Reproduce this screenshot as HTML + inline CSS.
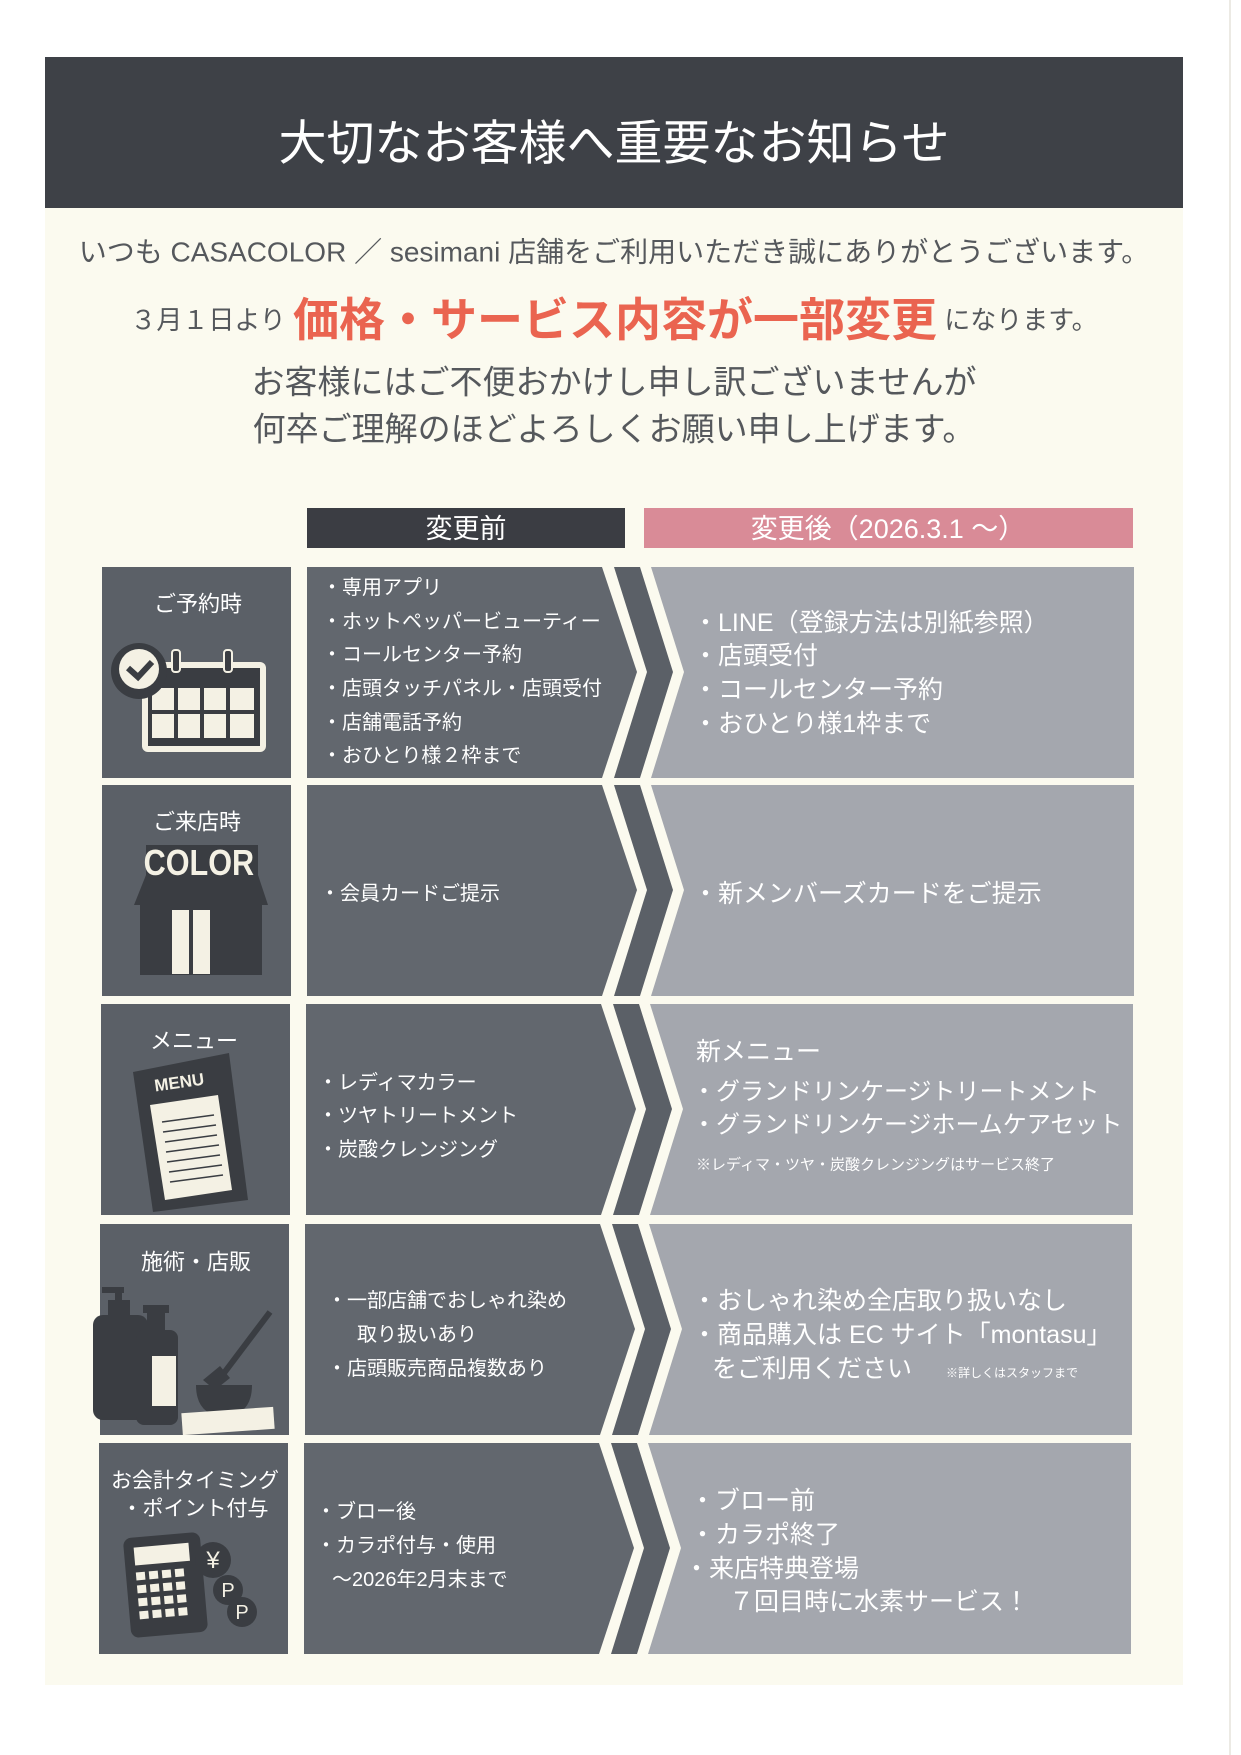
<!DOCTYPE html>
<html><head><meta charset="utf-8"><style>
html,body{margin:0;padding:0;background:#fff;}
svg{display:block;}
text{font-family:"Liberation Sans","Noto Sans CJK JP",sans-serif;}
</style></head><body>
<svg width="1241" height="1755" viewBox="0 0 1241 1755" xmlns="http://www.w3.org/2000/svg">
<rect x="0" y="0" width="1241" height="1755" fill="#ffffff"/>
<rect x="45" y="57" width="1138" height="1628" fill="#fbfaef"/>
<line x1="1230" y1="0" x2="1230" y2="1755" stroke="#eceae4" stroke-width="2"/>
<rect x="45" y="57" width="1138" height="151" fill="#3e4147"/>
<text x="614" y="144" text-anchor="middle" dominant-baseline="central" font-size="48" fill="#fff">大切なお客様へ重要なお知らせ</text>

<text x="614" y="252" text-anchor="middle" dominant-baseline="central" font-size="28" fill="#55585c">いつも CASACOLOR ／ sesimani 店舗をご利用いただき誠にありがとうございます。</text>
<text x="614" y="320" text-anchor="middle" dominant-baseline="central" fill="#55585c"><tspan font-size="26">３月１日より </tspan><tspan font-size="46" font-weight="bold" fill="#ea6450">価格・サービス内容が一部変更</tspan><tspan font-size="26"> になります。</tspan></text>
<text x="614" y="382" text-anchor="middle" dominant-baseline="central" font-size="33" fill="#55585c">お客様にはご不便おかけし申し訳ございませんが</text>
<text x="614" y="429" text-anchor="middle" dominant-baseline="central" font-size="33" fill="#55585c">何卒ご理解のほどよろしくお願い申し上げます。</text>

<rect x="307" y="508" width="318" height="40" fill="#3b3d43"/>
<text x="466" y="529" text-anchor="middle" dominant-baseline="central" font-size="27" fill="#fff">変更前</text>
<rect x="644" y="508" width="489" height="40" fill="#d98b97"/>
<text x="888" y="529" text-anchor="middle" dominant-baseline="central" font-size="27" fill="#fff">変更後（2026.3.1 ～）</text>

<g id="rows">
<rect x="102" y="567" width="189" height="211" fill="#5b6067"/>
<polygon points="307,567 602,567 637,672 602,778 307,778" fill="#62676e"/>
<polygon points="614,567 640,567 673,672 640,778 614,778 647,672" fill="#5b6067"/>
<polygon points="651,567 1134,567 1134,778 651,778 684,672" fill="#a4a7ae"/>
<rect x="102" y="785" width="189" height="211" fill="#5b6067"/>
<polygon points="307,785 602,785 637,890 602,996 307,996" fill="#62676e"/>
<polygon points="614,785 640,785 673,890 640,996 614,996 647,890" fill="#5b6067"/>
<polygon points="651,785 1134,785 1134,996 651,996 684,890" fill="#a4a7ae"/>
<rect x="101" y="1004" width="189" height="211" fill="#5b6067"/>
<polygon points="306,1004 601,1004 636,1109 601,1215 306,1215" fill="#62676e"/>
<polygon points="613,1004 639,1004 672,1109 639,1215 613,1215 646,1109" fill="#5b6067"/>
<polygon points="650,1004 1133,1004 1133,1215 650,1215 683,1109" fill="#a4a7ae"/>
<rect x="100" y="1224" width="189" height="211" fill="#5b6067"/>
<polygon points="305,1224 600,1224 635,1329 600,1435 305,1435" fill="#62676e"/>
<polygon points="612,1224 638,1224 671,1329 638,1435 612,1435 645,1329" fill="#5b6067"/>
<polygon points="649,1224 1132,1224 1132,1435 649,1435 682,1329" fill="#a4a7ae"/>
<rect x="99" y="1443" width="189" height="211" fill="#5b6067"/>
<polygon points="304,1443 599,1443 634,1548 599,1654 304,1654" fill="#62676e"/>
<polygon points="611,1443 637,1443 670,1548 637,1654 611,1654 644,1548" fill="#5b6067"/>
<polygon points="648,1443 1131,1443 1131,1654 648,1654 681,1548" fill="#a4a7ae"/>
</g>

<g>
<rect x="142" y="662" width="124" height="90" rx="6" fill="#f4f1e4"/>
<rect x="148" y="668" width="112" height="78" fill="#3a3d42"/>
<g fill="#f4f1e4">
<rect x="152" y="688" width="22" height="22"/><rect x="178" y="688" width="22" height="22"/><rect x="204" y="688" width="22" height="22"/><rect x="230" y="688" width="24" height="22"/>
<rect x="152" y="714" width="22" height="24"/><rect x="178" y="714" width="22" height="24"/><rect x="204" y="714" width="22" height="24"/><rect x="230" y="714" width="24" height="24"/>
</g>
<rect x="172" y="650" width="8" height="22" rx="3" fill="#3a3d42" stroke="#f4f1e4" stroke-width="2"/>
<rect x="224" y="650" width="8" height="22" rx="3" fill="#3a3d42" stroke="#f4f1e4" stroke-width="2"/>
<circle cx="139" cy="671" r="28" fill="#3a3d42"/>
<circle cx="139" cy="669" r="20" fill="#f4f1e4"/>
<polyline points="128,668 138,677 152,662" fill="none" stroke="#3a3d42" stroke-width="6"/>
</g>
<g>
<rect x="146" y="845" width="112" height="30" fill="#3a3d42"/>
<polygon points="134,905 146,875 258,875 268,905" fill="#3a3d42"/>
<rect x="140" y="905" width="122" height="70" fill="#3a3d42"/>
<rect x="172" y="910" width="17" height="64" fill="#f4f1e4"/>
<rect x="193" y="910" width="17" height="64" fill="#f4f1e4"/>
<text x="199" y="875" text-anchor="middle" font-size="36" font-weight="bold" fill="#f4f1e4" transform="scale(0.85,1) translate(35,0)">COLOR</text>
</g>
<g>
<polygon points="133,1072 229,1053 248,1200 153,1212" fill="#3a3d42"/>
<polygon points="150,1105 218,1095 232,1190 165,1200" fill="#f4f1e4"/>
<text x="180" y="1088" text-anchor="middle" font-size="17" font-weight="bold" fill="#f4f1e4" transform="rotate(-8 180 1088)">MENU</text>
<g stroke="#3a3d42" stroke-width="1.5">
<line x1="162" y1="1122" x2="214" y2="1115"/><line x1="163" y1="1132" x2="216" y2="1125"/><line x1="165" y1="1142" x2="217" y2="1135"/><line x1="166" y1="1152" x2="219" y2="1145"/><line x1="167" y1="1162" x2="220" y2="1155"/><line x1="169" y1="1172" x2="222" y2="1165"/><line x1="170" y1="1182" x2="223" y2="1175"/>
</g>
</g>
<g fill="#3a3d42">
<rect x="93" y="1315" width="55" height="105" rx="10"/>
<rect x="108" y="1300" width="22" height="18"/>
<rect x="115" y="1290" width="7" height="12"/>
<rect x="102" y="1287" width="22" height="6"/>
<rect x="136" y="1330" width="42" height="95" rx="8"/>
<rect x="147" y="1312" width="18" height="20"/>
<rect x="143" y="1305" width="26" height="8"/>
<rect x="152" y="1356" width="24" height="50" fill="#f4f1e4"/>
<path d="M196,1385 h56 q0,30 -28,32 q-28,-2 -28,-32z"/>
<line x1="215" y1="1385" x2="270" y2="1312" stroke="#3a3d42" stroke-width="6"/>
<polygon points="203,1380 220,1366 230,1378 215,1390"/>
<rect x="182" y="1410" width="92" height="22" fill="#f4f1e4" transform="rotate(-4 228 1421)"/>
</g>
<g>
<rect x="127" y="1535" width="77" height="100" rx="8" fill="#3a3d42" transform="rotate(-5 165 1585)"/>
<rect x="137" y="1545" width="55" height="18" fill="#f4f1e4" transform="rotate(-5 165 1585)"/>
<g fill="#f4f1e4" transform="rotate(-5 165 1585)">
<rect x="137" y="1570" width="9" height="8"/><rect x="150" y="1570" width="9" height="8"/><rect x="163" y="1570" width="9" height="8"/><rect x="176" y="1570" width="9" height="8"/>
<rect x="137" y="1583" width="9" height="8"/><rect x="150" y="1583" width="9" height="8"/><rect x="163" y="1583" width="9" height="8"/><rect x="176" y="1583" width="9" height="8"/>
<rect x="137" y="1596" width="9" height="8"/><rect x="150" y="1596" width="9" height="8"/><rect x="163" y="1596" width="9" height="8"/><rect x="176" y="1596" width="9" height="8"/>
<rect x="137" y="1609" width="9" height="8"/><rect x="150" y="1609" width="9" height="8"/><rect x="163" y="1609" width="9" height="8"/><rect x="176" y="1609" width="9" height="8"/>
</g>
<circle cx="213" cy="1560" r="18" fill="#3a3d42"/>
<text x="213" y="1568" text-anchor="middle" font-size="24" fill="#f4f1e4">¥</text>
<circle cx="228" cy="1590" r="15" fill="#3a3d42"/>
<text x="228" y="1597" text-anchor="middle" font-size="20" font-family="Liberation Serif" fill="#f4f1e4">P</text>
<circle cx="242" cy="1612" r="15" fill="#3a3d42"/>
<text x="242" y="1619" text-anchor="middle" font-size="20" font-family="Liberation Serif" fill="#f4f1e4">P</text>
</g>

<g fill="#ffffff" dominant-baseline="central">
<text x="198" y="604" text-anchor="middle" font-size="22">ご予約時</text>
<text x="197" y="822" text-anchor="middle" font-size="22">ご来店時</text>
<text x="194" y="1041" text-anchor="middle" font-size="22">メニュー</text>
<text x="196" y="1262" text-anchor="middle" font-size="22">施術・店販</text>
<text x="195" y="1481" text-anchor="middle" font-size="21">お会計タイミング</text>
<text x="195" y="1509" text-anchor="middle" font-size="21">・ポイント付与</text>

<g font-size="20">
<text x="322" y="588">・専用アプリ</text>
<text x="322" y="622">・ホットペッパービューティー</text>
<text x="322" y="655">・コールセンター予約</text>
<text x="322" y="689">・店頭タッチパネル・店頭受付</text>
<text x="322" y="723">・店舗電話予約</text>
<text x="322" y="756">・おひとり様２枠まで</text>
<text x="320" y="894">・会員カードご提示</text>
<text x="318" y="1083">・レディマカラー</text>
<text x="318" y="1116">・ツヤトリートメント</text>
<text x="318" y="1150">・炭酸クレンジング</text>
<text x="327" y="1301">・一部店舗でおしゃれ染め</text>
<text x="357" y="1335">取り扱いあり</text>
<text x="327" y="1369">・店頭販売商品複数あり</text>
<text x="316" y="1512">・ブロー後</text>
<text x="316" y="1546">・カラポ付与・使用</text>
<text x="332" y="1580">～2026年2月末まで</text>
</g>

<g font-size="25">
<text x="693" y="623">・LINE（登録方法は別紙参照）</text>
<text x="693" y="656">・店頭受付</text>
<text x="693" y="690">・コールセンター予約</text>
<text x="693" y="724">・おひとり様1枠まで</text>
<text x="693" y="894">・新メンバーズカードをご提示</text>
<text x="696" y="1052">新メニュー</text>
<text x="692" y="1092" font-size="24">・グランドリンケージトリートメント</text>
<text x="692" y="1125" font-size="24">・グランドリンケージホームケアセット</text>
<text x="692" y="1301">・おしゃれ染め全店取り扱いなし</text>
<text x="692" y="1335">・商品購入は EC サイト「montasu」</text>
<text x="712" y="1369">をご利用ください</text>
<text x="690" y="1501">・ブロー前</text>
<text x="690" y="1535">・カラポ終了</text>
<text x="684" y="1569">・来店特典登場</text>
<text x="729" y="1602">７回目時に水素サービス！</text>
</g>
<text x="696" y="1165" font-size="15">※レディマ・ツヤ・炭酸クレンジングはサービス終了</text>
<text x="946" y="1373" font-size="12">※詳しくはスタッフまで</text>
</g>
</svg>
</body></html>
